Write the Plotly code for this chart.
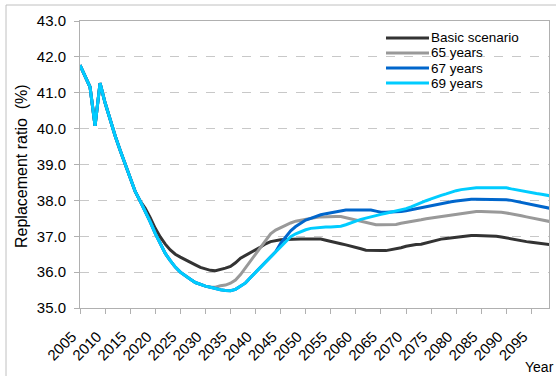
import plotly.graph_objects as go

years = list(range(2005, 2100))

# 2005-2017: identical for all scenarios
common = [41.77, 41.47, 41.16, 40.08, 41.27, 40.72, 40.24, 39.80, 39.40, 39.02,
          38.65, 38.25, 37.98]

basic = common + [
    37.78, 37.52, 37.22, 36.98, 36.78, 36.62, 36.50, 36.42, 36.34, 36.27,   # 2018-2027
    36.20, 36.13, 36.08, 36.05, 36.04, 36.07, 36.11, 36.16, 36.26, 36.39,   # 2028-2037
    36.46, 36.53, 36.62, 36.70, 36.79, 36.85, 36.88, 36.90, 36.91, 36.92,   # 2038-2047
    36.92, 36.92, 36.92, 36.92, 36.92, 36.92, 36.89, 36.85, 36.82, 36.79,   # 2048-2057
    36.76, 36.73, 36.69, 36.65, 36.61, 36.60, 36.60, 36.60, 36.60, 36.62,   # 2058-2067
    36.65, 36.68, 36.72, 36.75, 36.77, 36.78, 36.82, 36.86, 36.89, 36.92,   # 2068-2077
    36.94, 36.96, 36.98, 37.00, 37.01, 37.02, 37.02, 37.02, 37.02, 37.02,   # 2078-2087
    37.00, 36.98, 36.95, 36.92, 36.90, 36.88, 36.85, 36.83, 36.81, 36.79,   # 2088-2097
    36.77, 36.76,                                                           # 2098-2099
]

age69 = common + [
    37.70, 37.40, 37.08, 36.78, 36.52, 36.32, 36.14, 36.00, 35.89, 35.80,   # 2018-2027
    35.71, 35.65, 35.61, 35.58, 35.54, 35.51, 35.49, 35.48, 35.52, 35.60,   # 2028-2037
    35.70, 35.85, 35.99, 36.15, 36.29, 36.43, 36.57, 36.71, 36.85, 36.99,   # 2038-2047
    37.07, 37.13, 37.18, 37.22, 37.24, 37.25, 37.26, 37.26, 37.27, 37.28,   # 2048-2057
    37.32, 37.36, 37.42, 37.47, 37.51, 37.55, 37.58, 37.61, 37.64, 37.67,   # 2058-2067
    37.70, 37.73, 37.77, 37.82, 37.88, 37.95, 37.99, 38.04, 38.10, 38.14,   # 2068-2077
    38.18, 38.23, 38.27, 38.30, 38.32, 38.34, 38.35, 38.35, 38.35, 38.35,   # 2078-2087
    38.35, 38.35, 38.35, 38.32, 38.29, 38.26, 38.23, 38.21, 38.19, 38.17,   # 2088-2097
    38.14, 38.12,                                                           # 2098-2099
]

age67 = age69[:40] + [
    36.80, 36.98, 37.15, 37.27, 37.37,                                      # 2045-2049
    37.45, 37.50, 37.56, 37.60, 37.63, 37.66, 37.69, 37.71, 37.73, 37.73,   # 2050-2059
    37.73, 37.73, 37.73, 37.73, 37.70, 37.67, 37.67, 37.67, 37.67, 37.69,   # 2060-2069
    37.71, 37.74, 37.77, 37.80, 37.83, 37.85, 37.87, 37.90, 37.93, 37.96,   # 2070-2079
    37.98, 38.00, 38.02, 38.03, 38.03, 38.03, 38.03, 38.03, 38.03, 38.03,   # 2080-2089
    38.02, 38.00, 37.97, 37.94, 37.91, 37.88, 37.85, 37.82, 37.79, 37.77,   # 2090-2099
]

age65 = age69[:26] + [
    35.58, 35.58, 35.62, 35.64, 35.69, 35.78, 35.93, 36.12, 36.32,          # 2031-2039
    36.52, 36.71, 36.90, 37.07, 37.17, 37.24, 37.31, 37.37, 37.42, 37.45,   # 2040-2049
    37.48, 37.50, 37.52, 37.54, 37.55, 37.55, 37.55, 37.55, 37.52, 37.48,   # 2050-2059
    37.45, 37.42, 37.38, 37.35, 37.32, 37.32, 37.32, 37.32, 37.33, 37.36,   # 2060-2069
    37.38, 37.40, 37.43, 37.46, 37.49, 37.51, 37.53, 37.55, 37.58, 37.61,   # 2070-2079
    37.63, 37.65, 37.67, 37.68, 37.69, 37.69, 37.69, 37.69, 37.69, 37.67,   # 2080-2089
    37.65, 37.63, 37.60, 37.57, 37.54, 37.51, 37.48, 37.45, 37.42, 37.40,   # 2090-2099
]

names = ["Basic scenario", "65 years", "67 years", "69 years"]
values = [basic, age65, age67, age69]
colors = ["#333333", "#999999", "#0066CC", "#00CCFF"]

x_ticks = list(range(2005, 2100, 5))
y_ticks = [35, 36, 37, 38, 39, 40, 41, 42, 43]

FONT = "Liberation Sans, Arial, sans-serif"

# plot-area geometry in pixels, used to place the frame and the legend
L, R, T, B = 80, 7, 21, 68
W, H = 556, 376
PW, PH = W - L - R, H - T - B


def px_x(p):
    return (p - L) / PW


def px_y(p):
    return (H - B - p) / PH


fig = go.Figure()
for name, vals, color in zip(names, values, colors):
    fig.add_trace(go.Scatter(
        x=years, y=vals, name=name, mode="lines",
        line=dict(color=color, width=3), showlegend=False,
    ))

shapes = [
    # outer chart-area frame (top and left edges)
    dict(type="line", xref="paper", yref="paper",
         x0=px_x(6), x1=px_x(W), y0=px_y(5), y1=px_y(5),
         line=dict(color="#c0c0c0", width=1)),
    dict(type="line", xref="paper", yref="paper",
         x0=px_x(6), x1=px_x(6), y0=px_y(5), y1=px_y(H),
         line=dict(color="#c0c0c0", width=1)),
]
annotations = [
    dict(text="Replacement ratio  (%)", xref="paper", yref="paper",
         x=px_x(21), y=px_y(166), xanchor="center", yanchor="middle",
         textangle=-90, showarrow=False, font=dict(size=16)),
    dict(text="Year", xref="paper", yref="paper", x=px_x(556), y=px_y(367),
         xanchor="right", yanchor="middle", showarrow=False,
         font=dict(size=14)),
]

# legend: short line sample followed by the series name
row_y = [38, 53, 68, 83]
for name, color, ry in zip(names, colors, row_y):
    shapes.append(dict(type="line", xref="paper", yref="paper",
                       x0=px_x(386), x1=px_x(429), y0=px_y(ry), y1=px_y(ry),
                       line=dict(color=color, width=3)))
    annotations.append(dict(text=name, xref="paper", yref="paper",
                            x=px_x(429), y=px_y(ry), xanchor="left",
                            yanchor="middle", showarrow=False,
                            font=dict(size=13.5)))

fig.update_layout(
    width=W, height=H,
    margin=dict(l=L, r=R, t=T, b=B),
    paper_bgcolor="white", plot_bgcolor="white",
    font=dict(family=FONT, size=15, color="#000000"),
    showlegend=False,
    xaxis=dict(
        range=[2005, 2098.5], tickmode="array", tickvals=x_ticks,
        ticktext=[str(v) for v in x_ticks], tickangle=-45,
        ticks="outside", ticklen=5, tickcolor="#b0b0b0",
        ticklabelshift=-8, ticklabelstandoff=8,
        showgrid=False, zeroline=False,
        showline=True, linecolor="#b0b0b0", linewidth=1, mirror=True,
        tickfont=dict(size=15),
    ),
    yaxis=dict(
        range=[35, 43], tickmode="array", tickvals=y_ticks,
        tickformat=".1f", ticks="outside", ticklen=5, tickcolor="#b0b0b0",
        ticklabelstandoff=5,
        showgrid=True, gridcolor="#c8c8c8", griddash="dash", gridwidth=1,
        zeroline=False,
        showline=True, linecolor="#b0b0b0", linewidth=1, mirror=True,
        tickfont=dict(size=15),
    ),
    shapes=shapes,
    annotations=annotations,
)

fig.write_html("out.html")
